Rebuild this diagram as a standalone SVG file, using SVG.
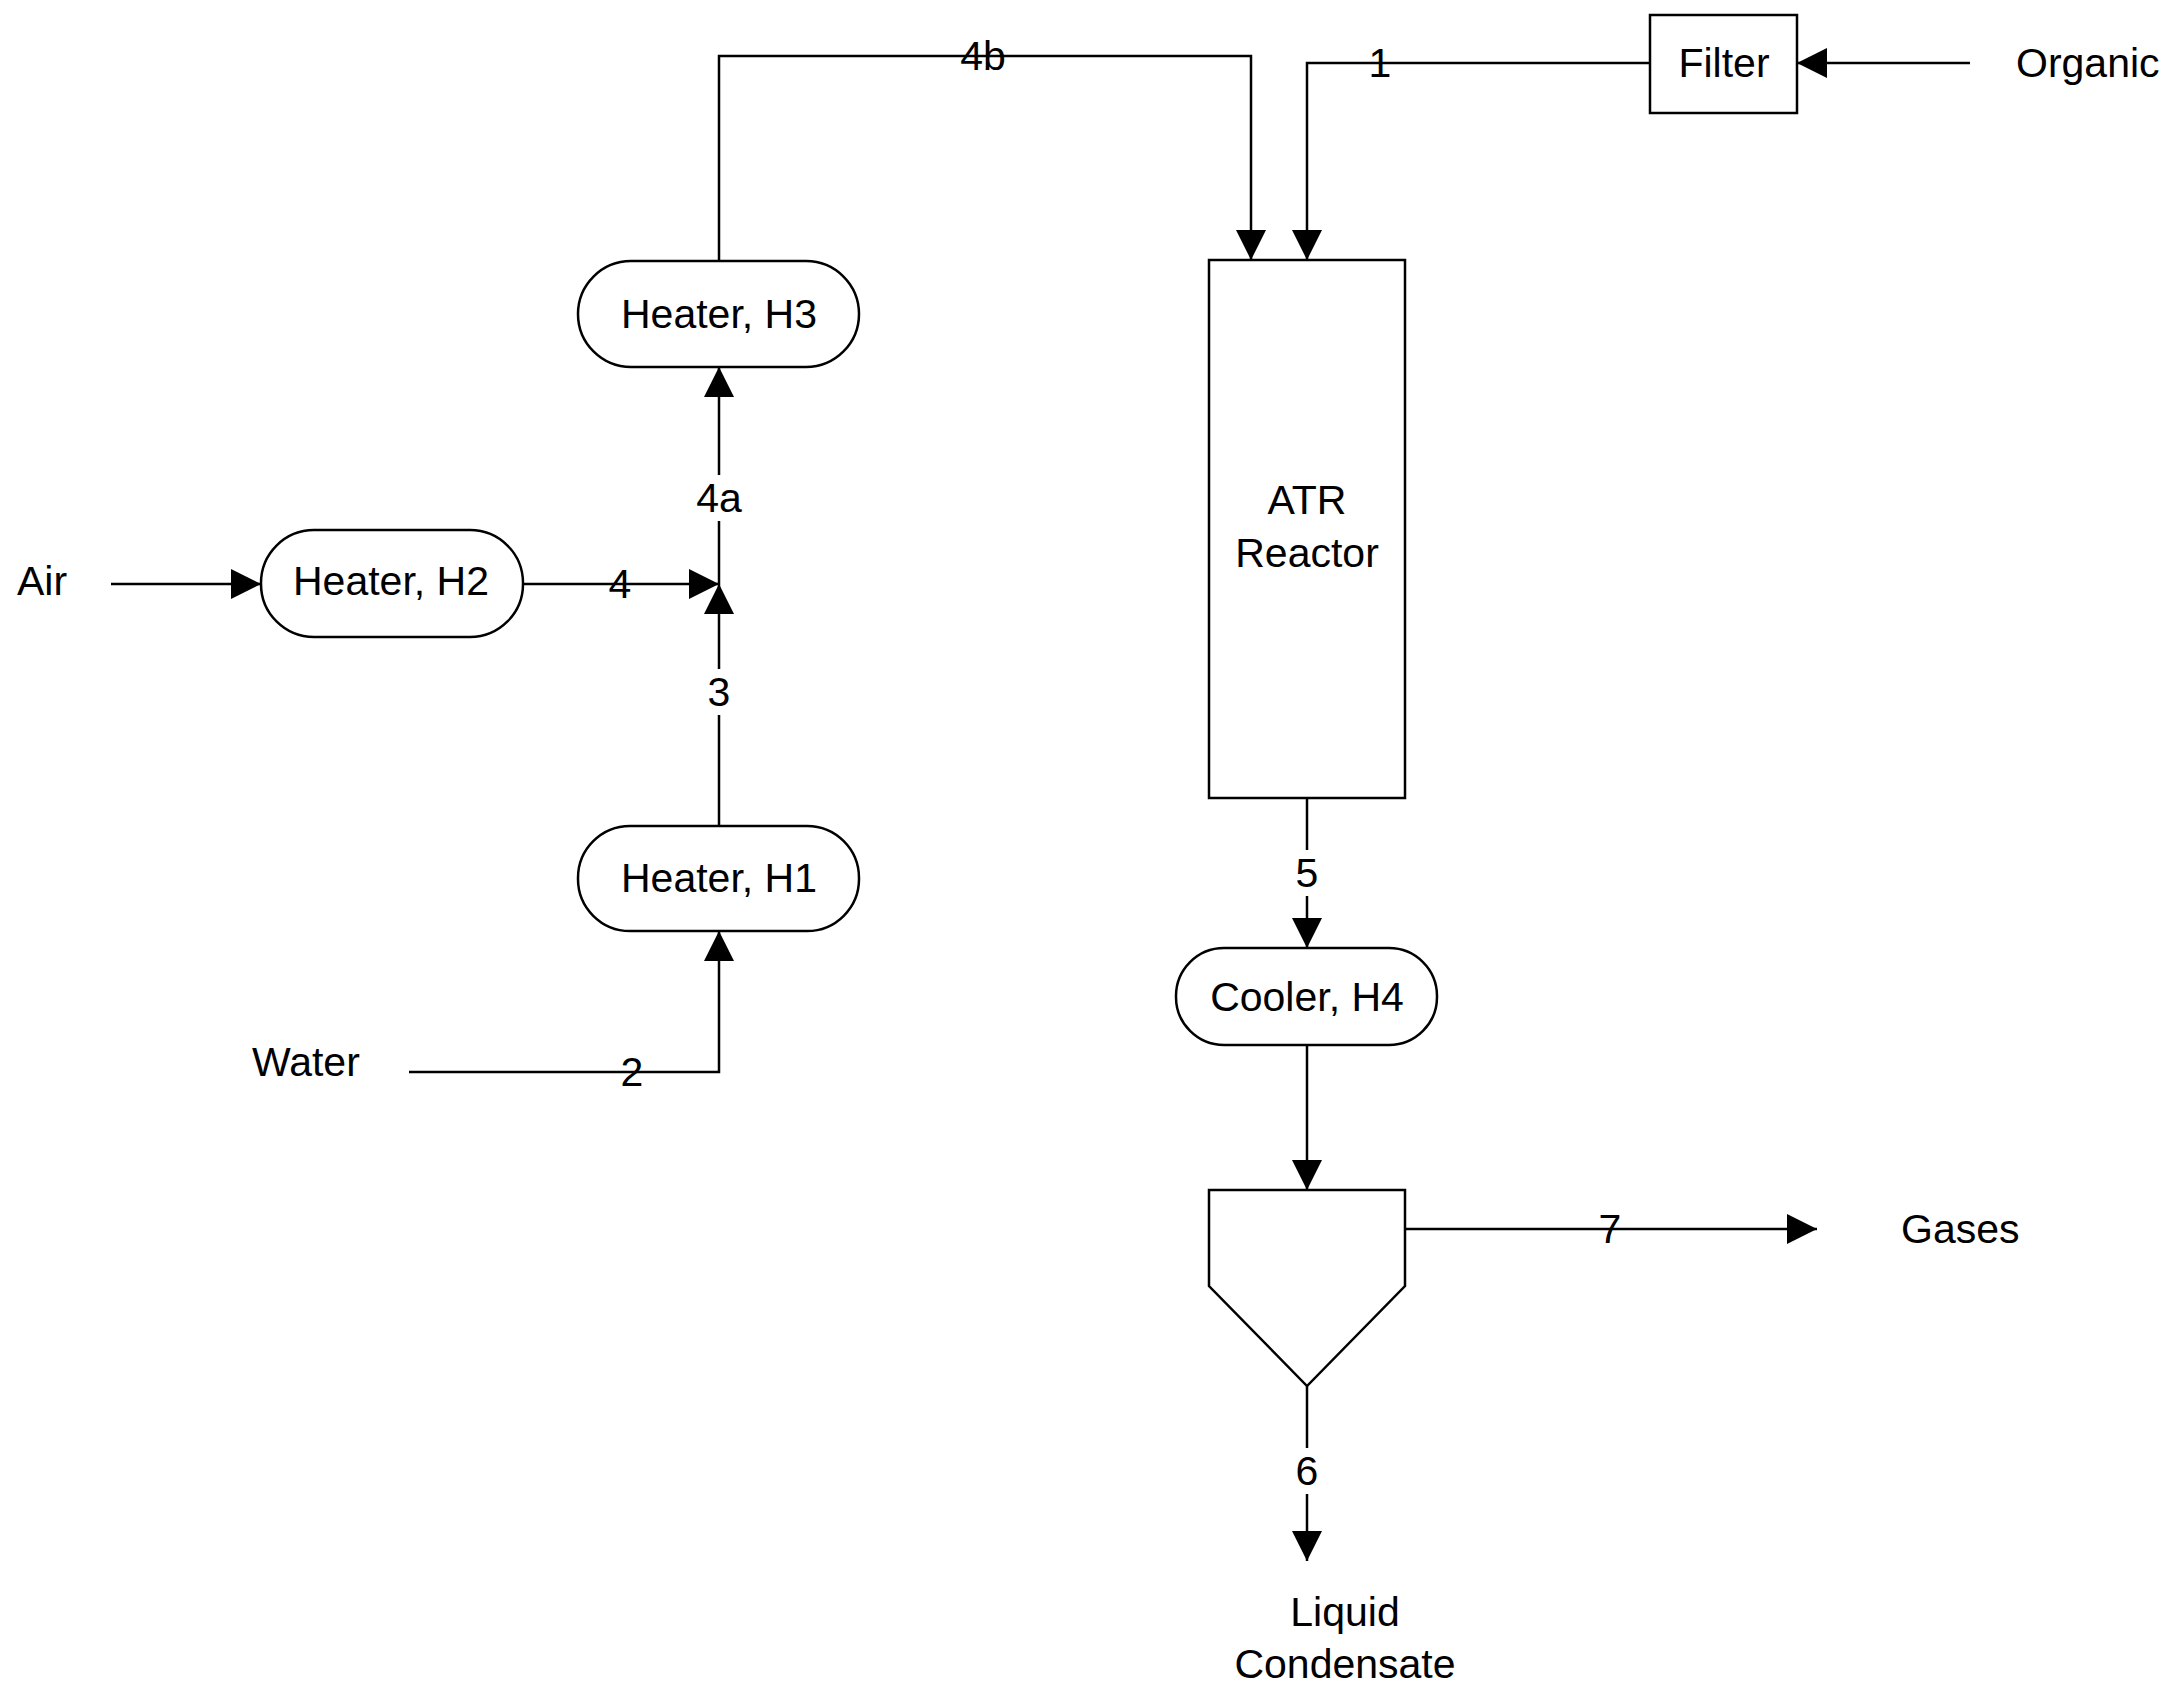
<svg xmlns="http://www.w3.org/2000/svg" width="2175" height="1687" viewBox="0 0 2175 1687">
<defs>
<style>
.s{fill:none;stroke:#000;stroke-width:2.5}
.n{fill:#fff;stroke:#000;stroke-width:2.5}
.bg{fill:#fff}
text{font-family:"Liberation Sans",Arial,sans-serif;font-size:41px;fill:#000}
.c{text-anchor:middle;dominant-baseline:central}
.l{dominant-baseline:central}
</style>
<marker id="a" viewBox="0 0 10 10" refX="10" refY="5" markerWidth="30" markerHeight="30" markerUnits="userSpaceOnUse" orient="auto"><path d="M0,0 L10,5 L0,10 z" fill="#000"/></marker>
</defs>
<rect width="2175" height="1687" fill="#fff"/>
<g id="connectors">
<path class="s" d="M1970,63 H1797" marker-end="url(#a)"/>
<path class="s" d="M1650,63 H1307 V260" marker-end="url(#a)"/>
<path class="s" d="M719,261 V56 H1251 V260" marker-end="url(#a)"/>
<path class="s" d="M719,584 V367" marker-end="url(#a)"/>
<path class="s" d="M111,584 H261" marker-end="url(#a)"/>
<path class="s" d="M523,584 H719" marker-end="url(#a)"/>
<path class="s" d="M719,826 V584" marker-end="url(#a)"/>
<path class="s" d="M409,1072 H719 V931" marker-end="url(#a)"/>
<path class="s" d="M1307,798 V948" marker-end="url(#a)"/>
<path class="s" d="M1307,1045 V1190" marker-end="url(#a)"/>
<path class="s" d="M1405,1229 H1817" marker-end="url(#a)"/>
<path class="s" d="M1307,1386 V1561" marker-end="url(#a)"/>
<rect class="bg" x="700" y="475" width="38" height="46"/>
<rect class="bg" x="704" y="669" width="30" height="46"/>
<rect class="bg" x="1292" y="850" width="30" height="46"/>
<rect class="bg" x="1292" y="1448" width="30" height="46"/>
<text class="c" x="1380" y="63">1</text>
<text class="c" x="983" y="56">4b</text>
<text class="c" x="719" y="498">4a</text>
<text class="c" x="620" y="584">4</text>
<text class="c" x="719" y="692">3</text>
<text class="c" x="632" y="1072">2</text>
<text class="c" x="1307" y="873">5</text>
<text class="c" x="1610" y="1229">7</text>
<text class="c" x="1307" y="1471">6</text>
</g>
<g id="filter"><rect class="n" x="1650" y="15" width="147" height="98"/><text class="c" x="1724" y="63">Filter</text></g>
<g id="organic"><text class="l" x="2016" y="63">Organic</text></g>
<g id="reactor"><rect class="n" x="1209" y="260" width="196" height="538"/><text class="c" x="1307" y="500">ATR</text><text class="c" x="1307" y="553">Reactor</text></g>
<g id="h3"><rect class="n" x="578" y="261" width="281" height="106" rx="53"/><text class="c" x="719" y="314">Heater, H3</text></g>
<g id="h2"><rect class="n" x="261" y="530" width="262" height="107" rx="53"/><text class="c" x="391" y="581">Heater, H2</text></g>
<g id="h1"><rect class="n" x="578" y="826" width="281" height="105" rx="52"/><text class="c" x="719" y="878">Heater, H1</text></g>
<g id="air"><text class="l" x="17" y="581">Air</text></g>
<g id="water"><text class="l" x="252" y="1062">Water</text></g>
<g id="h4"><rect class="n" x="1176" y="948" width="261" height="97" rx="48"/><text class="c" x="1307" y="997">Cooler, H4</text></g>
<g id="separator"><path class="n" d="M1209,1190 H1405 V1286 L1307,1386 L1209,1286 Z"/></g>
<g id="gases"><text class="l" x="1901" y="1229">Gases</text></g>
<g id="liquid"><text class="c" x="1345" y="1612">Liquid</text><text class="c" x="1345" y="1664">Condensate</text></g>
</svg>
